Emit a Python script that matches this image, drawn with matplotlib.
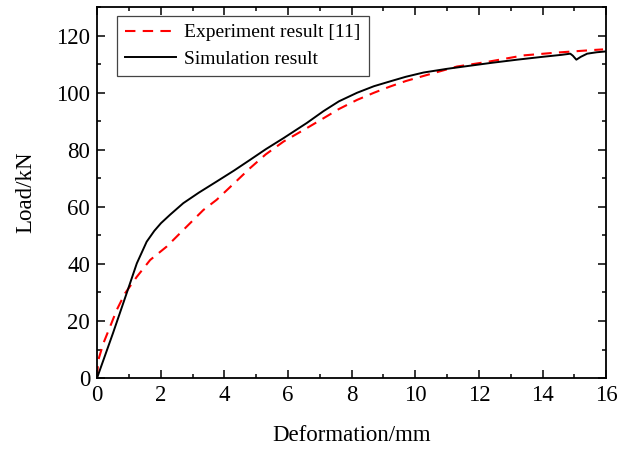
import matplotlib
matplotlib.use("Agg")
import matplotlib.pyplot as plt
from matplotlib.ticker import MultipleLocator

plt.rcParams['font.family'] = ['Liberation Serif', 'DejaVu Serif']
plt.rcParams['font.size'] = 16

# experiment result [11] (red dashed)
exp_x = [0, 0.04, 0.2, 0.41, 0.62, 0.88, 1.25, 1.67, 2.19, 2.71, 3.34, 3.76,
         4.3, 4.81, 5.3, 5.86, 6.59, 7.12, 7.6, 8.17, 8.7, 9.21, 9.7, 10.26,
         10.8, 11.31, 12.25, 13.4, 14.46, 15.6, 15.9]
exp_y = [0.5, 6.3, 12.2, 18, 23.9, 29.7, 35.5, 41.4, 46.1, 51.9, 58.9, 62.5,
         68.2, 73.6, 78.4, 82.9, 87.6, 91.1, 94.3, 97.5, 100, 102.2, 104.1, 105.9,
         107.6, 109.2, 110.8, 113.1, 114.1, 115, 115.2]

# simulation result (black solid)
sim_x = [0, 0.5, 0.93, 1.25, 1.56, 1.8, 2.01, 2.3, 2.71, 3.2, 3.76, 4.3,
         4.81, 5.3, 5.86, 6.3, 6.59, 7.12, 7.6, 8.17, 8.7, 9.21, 9.7, 10.26,
         11, 11.73, 12.4, 13.2, 14, 14.6, 14.87, 14.95, 15.06, 15.2, 15.4, 15.7, 16]
sim_y = [0, 15.7, 29.7, 40.2, 47.8, 51.6, 54.3, 57.3, 61.3, 65, 68.9, 72.7,
         76.5, 80.2, 84.1, 87.3, 89.4, 93.6, 97, 100, 102.3, 104, 105.6, 107.1,
         108.4, 109.5, 110.5, 111.6, 112.6, 113.3, 113.7, 113.0, 111.6, 112.6, 113.7, 114.2, 114.5]

fig = plt.figure(figsize=(6.18, 4.49), dpi=100)
ax = fig.add_axes([0.157, 0.158, 0.824, 0.826])

ax.plot(exp_x, exp_y, color='red', linestyle=(0, (5, 3.5)), linewidth=1.5,
        label='Experiment result [11]')
ax.plot(sim_x, sim_y, color='black', linewidth=1.4, label='Simulation result')

ax.set_xlim(0, 16)
ax.set_ylim(0, 130)
ax.xaxis.set_major_locator(MultipleLocator(2))
ax.xaxis.set_minor_locator(MultipleLocator(1))
ax.yaxis.set_major_locator(MultipleLocator(20))
ax.yaxis.set_minor_locator(MultipleLocator(10))
ax.tick_params(which='both', direction='in', top=True, right=True, width=1.1)
ax.tick_params(which='major', length=6, labelsize=16.5)
ax.tick_params(which='minor', length=3)
ax.tick_params(axis='x', pad=5)
ax.tick_params(axis='y', pad=5)
for sp in ax.spines.values():
    sp.set_linewidth(1.3)

ax.set_xlabel('Deformation/mm', fontsize=16.5, labelpad=14)
ax.set_ylabel('Load/kN', fontsize=16.5, labelpad=14)

leg = ax.legend(loc='upper left', bbox_to_anchor=(0.04, 0.976), borderaxespad=0,
                fancybox=False, framealpha=1, edgecolor='#444444',
                handlelength=2.6, handletextpad=0.45, labelspacing=0.45,
                borderpad=0.4, fontsize=14)
leg.get_frame().set_linewidth(0.9)

fig.savefig('out.png', dpi=100)
